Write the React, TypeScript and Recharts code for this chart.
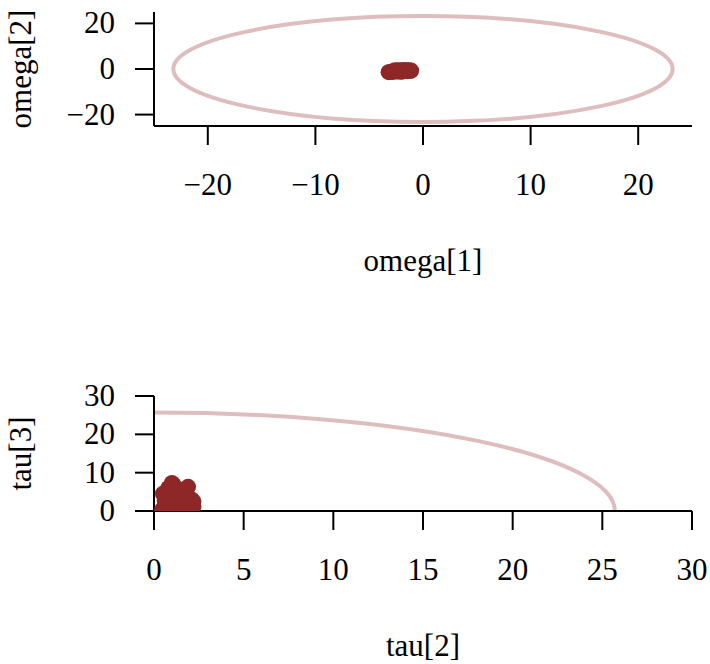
import { ScatterChart, Scatter, XAxis, YAxis, ReferenceArea } from "recharts";

const omega1 = [-3.2, -3.0, -2.8, -2.7, -2.5, -2.4, -2.3, -2.2, -2.0, -1.9, -1.8, -1.7, -1.6, -1.5, -1.4, -1.3, -1.2, -1.1, -2.6, -2.1, -1.9, -1.6];
const omega2 = [-1.4, -1.2, -1.3, -0.9, -1.1, -0.7, -1.0, -0.6, -0.9, -1.1, -0.6, -0.8, -0.5, -1.0, -0.7, -0.6, -0.9, -0.7, -0.6, -1.2, -0.5, -0.9];
const tau2 = [0.45, 0.5, 0.6, 0.7, 0.8, 0.9, 1.0, 1.05, 1.1, 1.2, 1.3, 1.4, 1.5, 1.6, 1.7, 1.8, 1.9, 2.0, 2.1, 2.2, 0.6, 0.9, 1.3, 1.7, 2.2, 1.0, 1.5, 0.8, 1.9];
const tau3 = [0.3, 4.5, 1.5, 3.5, 0.8, 5.5, 7.3, 2.5, 6.8, 1.0, 5.8, 3.0, 4.8, 0.5, 2.0, 4.0, 6.3, 1.5, 3.0, 1.2, 2.8, 0.5, 0.2, 5.0, 2.5, 4.0, 0.8, 6.0, 0.4];

const omegaRadius = 23.2;
const tauRadius = 25.7;

const omegaXTicks = [-20, -10, 0, 10, 20];
const omegaYTicks = [-20, -10, 0, 10, 20];
const omegaYLabels = [-20, 0, 20];
const tauXTicks = [0, 5, 10, 15, 20, 25, 30];
const tauYTicks = [0, 5, 10, 15, 20, 25, 30];
const tauYLabels = [0, 10, 20, 30];

const omegaData = omega1.map((x, i) => ({ x, y: omega2[i] }));
const tauData = tau2.map((x, i) => ({ x, y: tau3[i] }));

const POINT = "#8E2727";
const RING = "#DDBDBD";
const FONT = "'Liberation Serif', 'DejaVu Serif', serif";
const FS = 31;
const axisStyle = { stroke: "#000", strokeWidth: 2 };

const fmt = (v: number) => (v < 0 ? "\u2212" + Math.abs(v) : String(v));

const xTick = (p: any) => (
  <text x={p.x} y={p.y + 50} textAnchor="middle" fontSize={FS} fontFamily={FONT} fill="#000">
    {fmt(p.payload.value)}
  </text>
);

const yTick = (labels: number[]) => (p: any) =>
  labels.includes(p.payload.value) ? (
    <text x={p.x} y={p.y + 10} textAnchor="end" fontSize={FS} fontFamily={FONT} fill="#000">
      {fmt(p.payload.value)}
    </text>
  ) : (
    <g />
  );

const xTitle = (txt: string) => (p: any) => {
  const vb = p.viewBox;
  return (
    <text x={vb.x + vb.width / 2} y={vb.y + 145} textAnchor="middle" fontSize={FS} fontFamily={FONT} fill="#000">
      {txt}
    </text>
  );
};

const yTitle = (txt: string) => (p: any) => {
  const vb = p.viewBox;
  const cy = vb.y + vb.height / 2;
  return (
    <text x={31} y={cy} transform={`rotate(-90, 31, ${cy})`} textAnchor="middle" fontSize={FS} fontFamily={FONT} fill="#000">
      {txt}
    </text>
  );
};

const dot = (p: any) => <circle cx={p.cx} cy={p.cy} r={8} fill={POINT} />;

const ring = (p: any) => (
  <ellipse cx={p.x + p.width / 2} cy={p.y + p.height / 2} rx={p.width / 2} ry={p.height / 2} fill="none" stroke={RING} strokeWidth={4} />
);

const arc = (p: any) => (
  <path d={`M ${p.x} ${p.y} A ${p.width} ${p.height} 0 0 1 ${p.x + p.width} ${p.y + p.height}`} fill="none" stroke={RING} strokeWidth={4} />
);

export default function App() {
  return (
    <div style={{ position: "absolute", left: 0, top: 0, width: 710, height: 664, background: "#fff", fontFamily: FONT }}>
      <div style={{ position: "absolute", left: 0, top: 0 }}>
        <ScatterChart width={710} height={330} margin={{ top: 12, right: 18, bottom: 0, left: 0 }}>
          <XAxis
            type="number"
            dataKey="x"
            domain={[-25, 25]}
            ticks={omegaXTicks}
            height={204}
            tickSize={19}
            tickMargin={0}
            axisLine={axisStyle}
            tickLine={axisStyle}
            tick={xTick}
            label={{ content: xTitle("omega[1]") }}
          />
          <YAxis
            type="number"
            dataKey="y"
            domain={[-25, 25]}
            ticks={omegaYTicks}
            width={154}
            tickSize={19}
            tickMargin={20}
            axisLine={axisStyle}
            tickLine={axisStyle}
            tick={yTick(omegaYLabels)}
            label={{ content: yTitle("omega[2]") }}
          />
          <ReferenceArea x1={-omegaRadius} x2={omegaRadius} y1={-omegaRadius} y2={omegaRadius} shape={ring} />
          <Scatter data={omegaData} shape={dot} isAnimationActive={false} />
        </ScatterChart>
      </div>
      <div style={{ position: "absolute", left: 0, top: 330 }}>
        <ScatterChart width={710} height={334} margin={{ top: 66, right: 18, bottom: 0, left: 0 }}>
          <XAxis
            type="number"
            dataKey="x"
            domain={[0, 30]}
            ticks={tauXTicks}
            height={153}
            tickSize={19}
            tickMargin={0}
            axisLine={axisStyle}
            tickLine={axisStyle}
            tick={xTick}
            label={{ content: xTitle("tau[2]") }}
          />
          <YAxis
            type="number"
            dataKey="y"
            domain={[0, 30]}
            ticks={tauYTicks}
            width={154}
            tickSize={19}
            tickMargin={20}
            allowDataOverflow
            axisLine={axisStyle}
            tickLine={axisStyle}
            tick={yTick(tauYLabels)}
            label={{ content: yTitle("tau[3]") }}
          />
          <ReferenceArea x1={0} x2={tauRadius} y1={0} y2={tauRadius} shape={arc} />
          <Scatter data={tauData} shape={dot} isAnimationActive={false} />
        </ScatterChart>
      </div>
    </div>
  );
}
